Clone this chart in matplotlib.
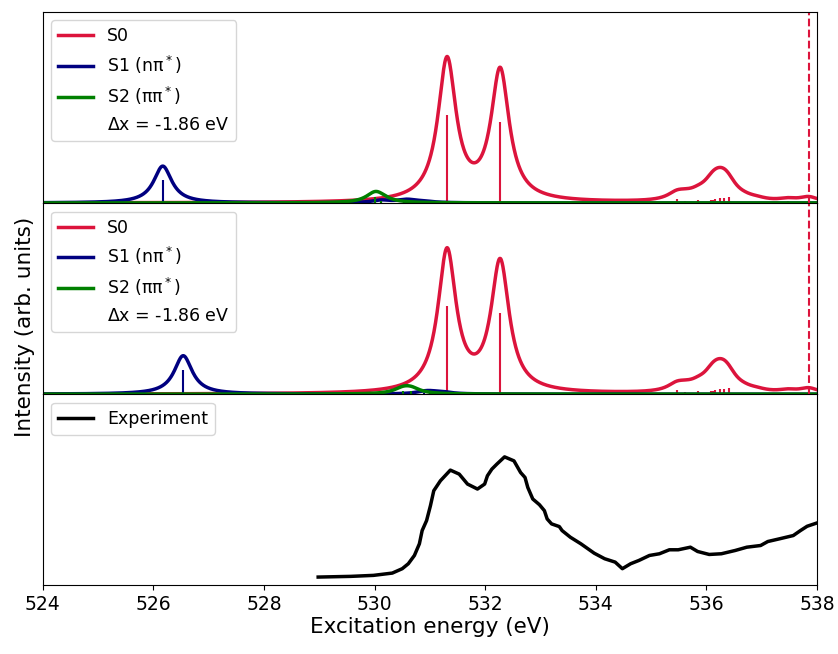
import numpy as np
import matplotlib
matplotlib.use("Agg")
import matplotlib.pyplot as plt

# stick spectra (energy in eV, intensity arb. units)
s0_energy = [531.31, 532.27, 535.46, 535.62, 535.85, 536.08, 536.12, 536.16,
             536.25, 536.32, 536.40, 536.68, 536.91, 537.47, 537.85]
s0_height = [88, 81, 4, 2, 3, 3, 3, 4, 5, 5, 6, 1, 1, 1.5, 3]

s1_energy_a = [526.17, 530.12, 530.54, 530.63, 530.90]
s1_height_a = [23, 1.5, 1, 1, 0.7]
s2_energy_a = [530.01, 530.12]
s2_height_a = [6, 1.5]

s1_energy_b = [526.54, 530.90, 531.00, 531.23]
s1_height_b = [24, 1, 1, 1]
s2_energy_b = [530.51, 530.66]
s2_height_b = [3, 3]

ionisation = 537.85
shift_label = r"$\Delta$x = -1.86 eV"

exp_energy = [528.98, 529.57, 529.98, 530.32, 530.50, 530.61, 530.72, 530.81,
              530.86, 530.94, 531.01, 531.07, 531.19, 531.37, 531.53, 531.68,
              531.86, 531.99, 532.04, 532.12, 532.21, 532.35, 532.52, 532.64,
              532.72, 532.77, 532.86, 532.98, 533.07, 533.12, 533.20, 533.34,
              533.39, 533.54, 533.73, 533.97, 534.16, 534.35, 534.48, 534.63,
              534.78, 534.97, 535.15, 535.33, 535.49, 535.71, 535.84, 536.05,
              536.27, 536.52, 536.73, 536.98, 537.11, 537.32, 537.57, 537.70,
              537.82, 537.98]
exp_int = [8.3, 9, 10, 12.3, 16.7, 21.7, 30, 41.7, 55, 65, 80, 95, 105, 115.7,
           111.7, 101.7, 96.7, 101.7, 110, 116.7, 121.7, 129, 125, 113.3, 108.3,
           98.3, 86.7, 81, 75, 66.7, 61.7, 59, 55, 48.3, 41.7, 32.3, 26.7, 23.3,
           16.7, 21.7, 25, 30, 31.7, 35.7, 35.7, 38.3, 34, 31, 31.7, 35, 38.3,
           40, 44, 46.7, 50, 55, 59.3, 62.3]

gamma = 0.2   # lorentzian half width (eV)
scale = 1.6
x = np.linspace(524, 538, 2000)


def broaden(energies, heights):
    y = np.zeros_like(x)
    for e, h in zip(energies, heights):
        y += scale * h * gamma**2 / ((x - e)**2 + gamma**2)
    return y


plt.rcParams['font.family'] = 'DejaVu Sans'
fig, axes = plt.subplots(3, 1, figsize=(8.38, 6.54), dpi=100, sharex=True)
fig.subplots_adjust(left=0.051, right=0.975, top=0.982, bottom=0.105, hspace=0)

panels = [(s1_energy_a, s1_height_a, s2_energy_a, s2_height_a),
          (s1_energy_b, s1_height_b, s2_energy_b, s2_height_b)]
for ax, (e1, h1, e2, h2) in zip(axes[:2], panels):
    ax.plot(x, broaden(s0_energy, s0_height), color="crimson", lw=2.5, label="S0")
    ax.vlines(s0_energy, 0, s0_height, color="crimson", lw=1.5)
    ax.plot(x, broaden(e1, h1), color="navy", lw=2.5, label="S1 (nπ$^*$)")
    ax.vlines(e1, 0, h1, color="navy", lw=1.5)
    ax.plot(x, broaden(e2, h2), color="green", lw=2.5, label="S2 (ππ$^*$)")
    ax.vlines(e2, 0, h2, color="green", lw=1.5)
    ax.plot([], [], " ", label=shift_label)
    ax.axvline(ionisation, color="crimson", ls="--", lw=1.5)
    ax.set_ylim(0, 191)
    ax.legend(loc="upper left", fontsize=12.5)
    ax.tick_params(bottom=False)

ax = axes[2]
ax.plot(exp_energy, exp_int, color="black", lw=2.5, label="Experiment")
ax.set_ylim(0, 192)
ax.legend(loc="upper left", fontsize=12.5)

for ax in axes:
    ax.set_yticks([])
ax.set_xlim(524, 538)
ax.set_xticks(np.arange(524, 539, 2))
ax.tick_params(labelsize=13.5)
ax.set_xlabel("Excitation energy (eV)", fontsize=15.5, labelpad=2)
fig.supylabel("Intensity (arb. units)", fontsize=15.5, x=0.018)

fig.savefig("out.png")
